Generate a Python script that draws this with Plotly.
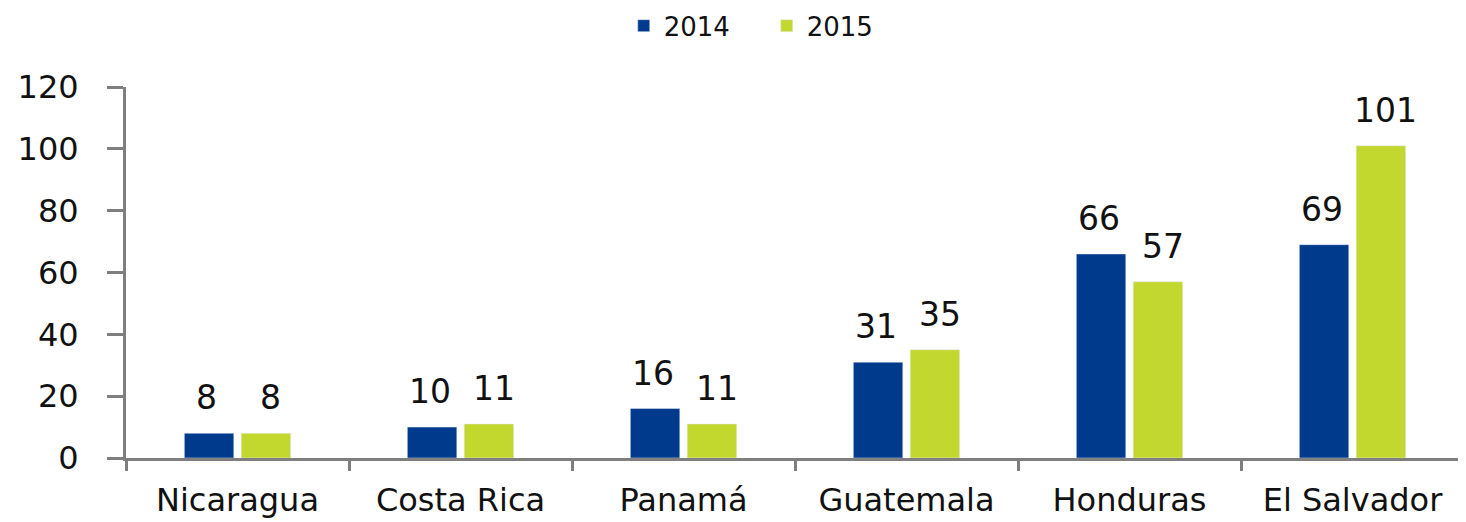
import plotly.graph_objects as go

categories = ["Nicaragua", "Costa Rica", "Panamá", "Guatemala", "Honduras", "El Salvador"]
values_2014 = [8, 10, 16, 31, 66, 69]
values_2015 = [8, 11, 11, 35, 57, 101]
series_names = ["2014", "2015"]
y_ticks = [0, 20, 40, 60, 80, 100, 120]

FONT = "DejaVu Sans"
fig = go.Figure()
fig.add_trace(go.Bar(x=categories, y=values_2014, name=series_names[0], marker_color="#003A8C"))
fig.add_trace(go.Bar(x=categories, y=values_2015, name=series_names[1], marker_color="#C2D82E"))

for vals, shift in ((values_2014, -31), (values_2015, 33)):
    for c, v in zip(categories, vals):
        fig.add_annotation(x=c, y=v, text=str(v), showarrow=False, xshift=shift, yshift=14,
                           yanchor="bottom", font=dict(size=33, color="#111111", family=FONT))

fig.update_layout(
    width=1458, height=514,
    margin=dict(l=118, r=2, t=79, b=64, autoexpand=False),
    plot_bgcolor="white", paper_bgcolor="white",
    font=dict(family=FONT, size=30, color="#111111"),
    barmode="group", bargap=0.49, bargroupgap=0.13,
    legend=dict(orientation="h", x=0.372, xanchor="left", y=1.165, yanchor="middle",
                font=dict(size=26, family=FONT), itemwidth=30, entrywidth=98,
                traceorder="normal", tracegroupgap=0),
    showlegend=True,
)
fig.update_xaxes(showline=True, linecolor="#7F7F7F", linewidth=3, ticks="outside", tickson="boundaries",
                 ticklen=10, tickwidth=3, tickcolor="#7F7F7F", tickfont=dict(size=32, family=FONT),
                 ticklabelstandoff=12, automargin=False)
fig.update_yaxes(range=[0, 120], tickvals=y_ticks, showline=True, linecolor="#7F7F7F", linewidth=3,
                 ticks="outside", ticklen=16, tickwidth=3, tickcolor="#7F7F7F", showgrid=False,
                 zeroline=False, tickfont=dict(size=32, family=FONT), ticklabelstandoff=22,
                 automargin=False)
fig.write_html("out.html")
